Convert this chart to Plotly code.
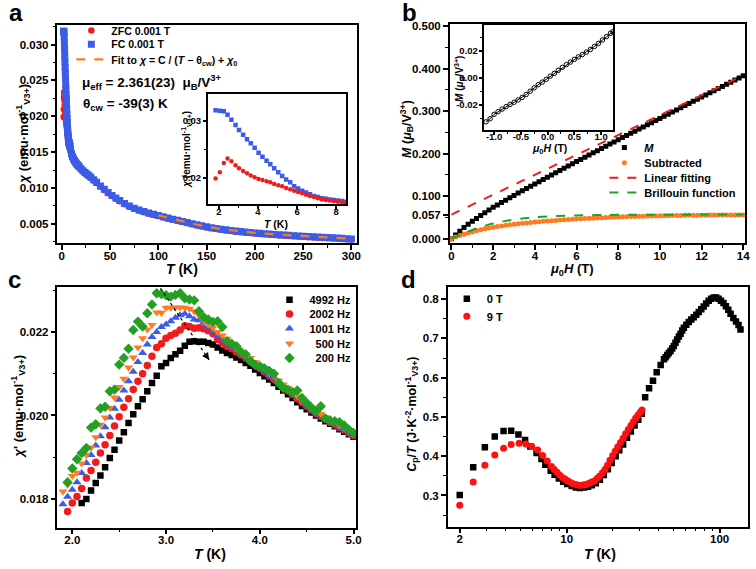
import plotly.graph_objects as go

W, H = 756, 569
FONT = "Liberation Sans, Arial, sans-serif"
RED = "#f21b1b"
BLUE = "#3a5ce6"
ORANGE = "#ff7a22"
GREEN = "#22a022"
BLACK = "#000000"

# ---------------- Panel a : chi(T) ----------------
T_A_LOW = [1.83, 2.05, 2.25, 2.44, 2.64, 2.85, 3.03, 3.24, 3.44, 3.63, 3.83, 4.03, 4.23, 4.44,
           4.63, 4.83, 5.04, 5.24, 5.44, 5.65, 5.85, 6.05, 6.26, 6.46, 6.66, 6.87, 7.07, 7.27,
           7.48, 7.68, 7.88, 8.09, 8.29, 8.47]
FC_LOW = [0.0319, 0.0318, 0.0317, 0.0311, 0.0302, 0.0293, 0.0284, 0.0276, 0.0268, 0.0261, 0.0253,
          0.0244, 0.0237, 0.0230, 0.0224, 0.0217, 0.0210, 0.0203, 0.0197, 0.0192, 0.0185, 0.0181,
          0.0177, 0.0174, 0.0171, 0.0168, 0.0166, 0.0164, 0.0163, 0.0162, 0.0161, 0.0160, 0.0159,
          0.0158]
ZFC_LOW = [0.0199, 0.0210, 0.0226, 0.0234, 0.0229, 0.0222, 0.0217, 0.0212, 0.0208, 0.0204, 0.0201,
           0.0198, 0.0196, 0.0194, 0.0192, 0.0189, 0.0187, 0.0185, 0.0182, 0.0180, 0.0177, 0.0175,
           0.0173, 0.0170, 0.0168, 0.0166, 0.0164, 0.0162, 0.0161, 0.0160, 0.0159, 0.0158, 0.0157,
           0.0156]
T_A_HIGH = [9, 10, 11, 12, 13, 14, 15, 16, 17, 18, 20, 22, 24, 26, 28, 30, 33, 36, 40, 44, 48, 52,
            56, 60, 65, 70, 75, 80, 85, 90, 95, 100, 105, 110, 115, 120, 125, 130, 135, 140, 145,
            150, 155, 160, 165, 170, 175, 180, 185, 190, 195, 200, 205, 210, 215, 220, 225, 230,
            235, 240, 245, 250, 255, 260, 265, 270, 275, 280, 285, 290, 295, 300]
FC_HIGH = [0.01540, 0.01480, 0.01440, 0.01410, 0.01385, 0.01365, 0.01345, 0.01328, 0.01312,
           0.01297, 0.01268, 0.01242, 0.01218, 0.01196, 0.01174, 0.01152, 0.01115, 0.01080,
           0.01030, 0.00982, 0.00938, 0.00898, 0.00860, 0.00825, 0.00785, 0.00750, 0.00720,
           0.00695, 0.00672, 0.00652, 0.00635, 0.00618, 0.00600, 0.00583, 0.00567, 0.00551,
           0.00535, 0.00519, 0.00503, 0.00488, 0.00474, 0.00460, 0.00448, 0.00437, 0.00427,
           0.00418, 0.00409, 0.00401, 0.00394, 0.00387, 0.00381, 0.00375, 0.00369, 0.00364,
           0.00359, 0.00354, 0.00349, 0.00345, 0.00341, 0.00337, 0.00333, 0.00329, 0.00325,
           0.00321, 0.00318, 0.00314, 0.00311, 0.00307, 0.00303, 0.00299, 0.00295, 0.00291]
ZFC_HIGH = [0.01525, 0.01468, 0.01428, 0.01398, 0.01373, 0.01353, 0.01334, 0.01317, 0.01301,
            0.01286, 0.01257, 0.01231, 0.01207, 0.01185, 0.01163, 0.01141, 0.01105, 0.01070,
            0.01020, 0.00972, 0.00928, 0.00888, 0.00850, 0.00815, 0.00776, 0.00741, 0.00711,
            0.00686, 0.00663, 0.00643, 0.00626, 0.00609, 0.00591, 0.00574, 0.00558, 0.00542,
            0.00526, 0.00510, 0.00494, 0.00479, 0.00465, 0.00451, 0.00439, 0.00428, 0.00418,
            0.00409, 0.00400, 0.00392, 0.00385, 0.00378, 0.00372, 0.00366, 0.00360, 0.00355,
            0.00350, 0.00345, 0.00340, 0.00336, 0.00332, 0.00328, 0.00324, 0.00320, 0.00316,
            0.00312, 0.00309, 0.00305, 0.00302, 0.00298, 0.00294, 0.00290, 0.00286, 0.00282]
FIT_T = [100, 110, 120, 130, 140, 150, 160, 170, 180, 190, 200, 210, 220, 230, 240, 250, 260,
         270, 280, 290, 300]
FIT_CHI = [0.00620, 0.00584, 0.00552, 0.00522, 0.00490, 0.00462, 0.00440, 0.00420, 0.00403,
           0.00389, 0.00376, 0.00365, 0.00355, 0.00346, 0.00338, 0.00330, 0.00322, 0.00315,
           0.00308, 0.00301, 0.00294]

# ---------------- Panel b : M(H) ----------------
H_M = [0.0, 0.2, 0.4, 0.6, 0.8, 1.0, 1.2, 1.4, 1.6, 1.8, 2.0, 2.2, 2.4, 2.6, 2.8, 3.0, 3.2, 3.4,
       3.6, 3.8, 4.0, 4.2, 4.4, 4.6, 4.8, 5.0, 5.2, 5.4, 5.6, 5.8, 6.0, 6.2, 6.4, 6.6, 6.8, 7.0,
       7.2, 7.4, 7.6, 7.8, 8.0, 8.2, 8.4, 8.6, 8.8, 9.0, 9.2, 9.4, 9.6, 9.8, 10.0, 10.2, 10.4,
       10.6, 10.8, 11.0, 11.2, 11.4, 11.6, 11.8, 12.0, 12.2, 12.4, 12.6, 12.8, 13.0, 13.2, 13.4,
       13.6, 13.8, 14.0]
M_DATA = [0.0000, 0.0090, 0.0178, 0.0264, 0.0340, 0.0410, 0.0478, 0.0545, 0.0612, 0.0677, 0.0740,
          0.0797, 0.0853, 0.0909, 0.0965, 0.1020, 0.1074, 0.1128, 0.1182, 0.1236, 0.1290, 0.1342,
          0.1394, 0.1447, 0.1499, 0.1552, 0.1604, 0.1657, 0.1709, 0.1762, 0.1814, 0.1866, 0.1917,
          0.1969, 0.2020, 0.2072, 0.2124, 0.2175, 0.2227, 0.2278, 0.2330, 0.2380, 0.2430, 0.2480,
          0.2530, 0.2580, 0.2630, 0.2680, 0.2730, 0.2780, 0.2830, 0.2880, 0.2930, 0.2980, 0.3030,
          0.3080, 0.3130, 0.3180, 0.3230, 0.3280, 0.3330, 0.3380, 0.3430, 0.3480, 0.3530, 0.3580,
          0.3630, 0.3680, 0.3730, 0.3780, 0.3830]
M_SUB = [0.0000, 0.0040, 0.0075, 0.0105, 0.0135, 0.0162, 0.0188, 0.0212, 0.0234, 0.0254, 0.0272,
         0.0288, 0.0303, 0.0317, 0.0330, 0.0342, 0.0353, 0.0364, 0.0374, 0.0384, 0.0393, 0.0402,
         0.0410, 0.0418, 0.0426, 0.0433, 0.0440, 0.0447, 0.0453, 0.0459, 0.0465, 0.0471, 0.0476,
         0.0481, 0.0486, 0.0491, 0.0496, 0.0500, 0.0504, 0.0508, 0.0512, 0.0516, 0.0519, 0.0522,
         0.0525, 0.0528, 0.0531, 0.0534, 0.0536, 0.0538, 0.0540, 0.0542, 0.0544, 0.0546, 0.0548,
         0.0550, 0.0551, 0.0552, 0.0553, 0.0554, 0.0555, 0.0556, 0.0557, 0.0557, 0.0558, 0.0558,
         0.0558, 0.0559, 0.0559, 0.0559, 0.0559]
LIN_H = [0, 14]
LIN_M = [0.057, 0.384]
BRI_H = [0, 0.25, 0.5, 0.75, 1, 1.25, 1.5, 1.75, 2, 2.5, 3, 3.5, 4, 5, 6, 7, 8, 10, 12, 14]
BRI_M = [0, 0.0055, 0.011, 0.016, 0.0208, 0.0252, 0.0292, 0.0328, 0.036, 0.041, 0.0452, 0.0483,
         0.0507, 0.0535, 0.0550, 0.0558, 0.0563, 0.0567, 0.0569, 0.0570]
# inset b : low-field loop
H_IN = [-1.15, -1.075, -1.0, -0.925, -0.85, -0.775, -0.7, -0.625, -0.55, -0.475, -0.4, -0.325,
        -0.25, -0.175, -0.1, -0.025, 0.05, 0.125, 0.2, 0.275, 0.35, 0.425, 0.5, 0.575, 0.65,
        0.725, 0.8, 0.875, 0.95, 1.025, 1.1, 1.175, 1.22]
M_IN = [-0.0328, -0.0305, -0.0272, -0.0252, -0.0233, -0.0215, -0.0198, -0.0182, -0.0165, -0.0146,
        -0.0125, -0.0100, -0.0075, -0.0052, -0.0033, -0.0012, 0.0012, 0.0032, 0.0055, 0.0077,
        0.0097, 0.0116, 0.0136, 0.0155, 0.0172, 0.0190, 0.0210, 0.0232, 0.0255, 0.0280, 0.0305,
        0.0330, 0.0342]

# ---------------- Panel c : AC susceptibility ----------------
T_C = [1.90, 1.95, 2.00, 2.05, 2.10, 2.15, 2.20, 2.25, 2.30, 2.35, 2.40, 2.45, 2.50, 2.55, 2.60,
       2.65, 2.70, 2.75, 2.80, 2.85, 2.90, 2.95, 3.00, 3.05, 3.10, 3.15, 3.20, 3.25, 3.30, 3.35,
       3.40, 3.45, 3.50, 3.55, 3.60, 3.65, 3.70, 3.75, 3.80, 3.85, 3.90, 3.95, 4.00, 4.05, 4.10,
       4.15, 4.20, 4.25, 4.30, 4.35, 4.40, 4.45, 4.50, 4.55, 4.60, 4.65, 4.70, 4.75, 4.80, 4.85,
       4.90, 4.95, 5.00]
CHI_4992 = [0.01790, 0.01800, 0.01820, 0.01838, 0.01856, 0.01876, 0.01898, 0.01918, 0.01940,
            0.01960, 0.01982, 0.02003, 0.02022, 0.02039, 0.02058, 0.02078, 0.02095, 0.02118,
            0.02126, 0.02138, 0.02147, 0.02155, 0.02167, 0.02177, 0.02178, 0.02177, 0.02177,
            0.02174, 0.02170, 0.02163, 0.02156, 0.02150, 0.02145, 0.02139, 0.02133, 0.02126,
            0.02119, 0.02110, 0.02102, 0.02094, 0.02086, 0.02078, 0.02069, 0.02060, 0.02051,
            0.02042, 0.02032, 0.02023, 0.02015, 0.02007, 0.02000, 0.01993, 0.01986, 0.01980,
            0.01974, 0.01967, 0.01961, 0.01955, 0.01949]
CHI_2002 = [0.01770, 0.01790, 0.01806, 0.01825, 0.01850, 0.01868, 0.01888, 0.01910, 0.01930,
            0.01952, 0.01975, 0.01997, 0.02020, 0.02040, 0.02062, 0.02082, 0.02100, 0.02120,
            0.02142, 0.02163, 0.02172, 0.02185, 0.02192, 0.02197, 0.02205, 0.02215, 0.02213,
            0.02209, 0.02210, 0.02208, 0.02203, 0.02196, 0.02182, 0.02174, 0.02166, 0.02160,
            0.02152, 0.02145, 0.02138, 0.02130, 0.02122, 0.02113, 0.02104, 0.02095, 0.02087,
            0.02078, 0.02068, 0.02059, 0.02050, 0.02040, 0.02031, 0.02022, 0.02013, 0.02005,
            0.01998, 0.01991, 0.01984, 0.01978, 0.01971, 0.01965, 0.01958, 0.01952]
CHI_1001 = [0.01787, 0.01805, 0.01822, 0.01840, 0.01862, 0.01886, 0.01905, 0.01928, 0.01950,
            0.01972, 0.01995, 0.02016, 0.02038, 0.02060, 0.02082, 0.02105, 0.02128, 0.02150,
            0.02170, 0.02188, 0.02200, 0.02212, 0.02218, 0.02226, 0.02234, 0.02240, 0.02244,
            0.02238, 0.02230, 0.02228, 0.02222, 0.02212, 0.02202, 0.02192, 0.02182, 0.02173,
            0.02165, 0.02157, 0.02149, 0.02141, 0.02133, 0.02124, 0.02115, 0.02106, 0.02097,
            0.02089, 0.02080, 0.02070, 0.02061, 0.02052, 0.02042, 0.02033, 0.02024, 0.02015,
            0.02007, 0.02000, 0.01993, 0.01986, 0.01980, 0.01973, 0.01967, 0.01960, 0.01954]
CHI_500 = [0.01818, 0.01834, 0.01855, 0.01863, 0.01885, 0.01905, 0.01923, 0.01948, 0.01978,
           0.01995, 0.02018, 0.02043, 0.02068, 0.02088, 0.02115, 0.02139, 0.02163, 0.02185,
           0.02206, 0.02217, 0.02247, 0.02246, 0.02258, 0.02258, 0.02259, 0.02259, 0.02258,
           0.02256, 0.02250, 0.02240, 0.02228, 0.02218, 0.02210, 0.02200, 0.02192, 0.02184,
           0.02170, 0.02160, 0.02152, 0.02146, 0.02138, 0.02128, 0.02120, 0.02112, 0.02102,
           0.02095, 0.02084, 0.02074, 0.02066, 0.02058, 0.02046, 0.02036, 0.02028, 0.02018,
           0.02012, 0.02004, 0.01996, 0.01988, 0.01984, 0.01976, 0.01970, 0.01964, 0.01956]
CHI_200 = [0.01840, 0.01873, 0.01895, 0.01910, 0.01922, 0.01971, 0.01979, 0.02017, 0.02021,
           0.02058, 0.02062, 0.02122, 0.02138, 0.02160, 0.02205, 0.02225, 0.02213, 0.02245,
           0.02266, 0.02293, 0.02291, 0.02288, 0.02285, 0.02289, 0.02293, 0.02281, 0.02278,
           0.02276, 0.02250, 0.02236, 0.02230, 0.02224, 0.02226, 0.02212, 0.02178, 0.02172,
           0.02166, 0.02152, 0.02146, 0.02130, 0.02121, 0.02118, 0.02113, 0.02107, 0.02100,
           0.02078, 0.02066, 0.02062, 0.02056, 0.02060, 0.02042, 0.02030, 0.02019, 0.02010,
           0.02022, 0.01993, 0.01988, 0.01986, 0.01984, 0.01976, 0.01966, 0.01958]
ARROW_T = [2.94, 3.46]
ARROW_CHI = [0.02305, 0.02133]

# ---------------- Panel d : heat capacity ----------------
CP_T0 = [2.0, 2.45, 2.92, 3.39, 3.87, 4.34, 4.84, 5.35, 5.79, 6.36, 6.85, 7.26, 7.87, 8.35, 8.9,
         9.5, 10.1, 10.8, 11.5, 12.2, 13.0, 13.8, 14.6, 15.5, 16.5, 17.5, 18.6, 19.7, 20.9, 22.1,
         23.4, 24.8, 26.3, 27.8, 29.4, 31.0, 32.6, 34.6, 36.7, 38.8, 41.2, 43.3, 44.4, 45.5, 46.6,
         47.8, 49.0, 50.2, 51.5, 52.8, 54.2, 55.6, 57.0, 58.4, 60.6, 62.9, 65.3, 67.8, 70.4, 73.1,
         75.9, 78.7, 81.7, 84.9, 88.1, 91.5, 95.0, 98.5, 102, 106, 110, 114, 118, 123, 128, 133, 137]
CP_0T = [0.301, 0.372, 0.423, 0.450, 0.464, 0.465, 0.455, 0.441, 0.425, 0.408, 0.393, 0.378, 0.363,
         0.353, 0.343, 0.335, 0.329, 0.324, 0.320, 0.319, 0.320, 0.322, 0.326, 0.331, 0.340, 0.352,
         0.367, 0.383, 0.400, 0.415, 0.430, 0.447, 0.463, 0.478, 0.493, 0.508, 0.550, 0.573, 0.592,
         0.614, 0.632, 0.647, 0.652, 0.658, 0.663, 0.668, 0.674, 0.681, 0.689, 0.697, 0.705, 0.712,
         0.720, 0.727, 0.735, 0.742, 0.748, 0.754, 0.760, 0.767, 0.774, 0.781, 0.789, 0.796, 0.801,
         0.804, 0.804, 0.801, 0.796, 0.790, 0.782, 0.773, 0.763, 0.752, 0.743, 0.734, 0.723]
CP_T9 = [2.0, 2.45, 2.92, 3.39, 3.87, 4.34, 4.89, 5.41, 5.91, 6.47, 6.97, 7.47, 7.96, 8.3, 8.65,
         9.0, 9.4, 9.8, 10.2, 10.6, 11.0, 11.5, 12.0, 12.5, 13.0, 13.5, 14.0, 14.6, 15.2, 15.8,
         16.4, 17.1, 17.8, 18.5, 19.2, 20.0, 20.8, 21.6, 22.5, 23.4, 24.3, 25.3, 26.3, 27.3, 28.3,
         29.3, 30.3, 31.1]
CP_9T = [0.275, 0.334, 0.377, 0.403, 0.420, 0.430, 0.433, 0.431, 0.425, 0.416, 0.402, 0.388, 0.374,
         0.366, 0.359, 0.352, 0.346, 0.341, 0.337, 0.333, 0.330, 0.328, 0.326, 0.326, 0.327, 0.328,
         0.331, 0.334, 0.337, 0.343, 0.349, 0.357, 0.366, 0.377, 0.390, 0.402, 0.413, 0.424, 0.435,
         0.446, 0.457, 0.468, 0.478, 0.488, 0.497, 0.505, 0.512, 0.518]

# axis titles
CHI_TITLE = "<i>χ</i> (emu·mol<sup>-1</sup><sub>V3+</sub>)"
TITLE_T = "<i>T</i> (K)"
TITLE_H = "<i>μ</i><sub>0</sub><i>H</i> (T)"
TITLE_M = "<i>M</i> (<i>μ</i><sub>B</sub>/V<sup>3+</sup>)"
TITLE_CHI_AC = "<i>χ</i>' (emu·mol<sup>-1</sup><sub>V3+</sub>)"
TITLE_CP = "<i>C</i><sub>p</sub>/<i>T</i> (J·K<sup>-2</sup>·mol<sup>-1</sup><sub>V3+</sub>)"


def fx(p):
    return p / W


def fy(p):
    return 1 - p / H


TICKFONT = dict(family=FONT, size=11.5, color="black", weight="bold")
SMALLTICK = dict(family=FONT, size=9.5, color="black", weight="bold")


def axis(dom, rng, anchor, **kw):
    d = dict(domain=dom, range=rng, anchor=anchor, showline=True, linecolor="black",
             linewidth=1.5, mirror=True, ticks="outside", ticklen=5, tickwidth=1.5,
             tickcolor="black", showgrid=False, zeroline=False, tickfont=TICKFONT)
    d.update(kw)
    return d


def minor(dt, t0=0, ln=3):
    return dict(ticks="outside", ticklen=ln, tickwidth=1.2, tickcolor="black", dtick=dt, tick0=t0)


fig = go.Figure()

# panel a traces
fig.add_trace(go.Scatter(x=T_A_LOW + T_A_HIGH, y=ZFC_LOW + ZFC_HIGH, mode="markers",
                         marker=dict(symbol="circle", size=6.5, color=RED),
                         name="ZFC 0.001 T", xaxis="x", yaxis="y", legend="legend"))
fig.add_trace(go.Scatter(x=T_A_LOW + T_A_HIGH, y=FC_LOW + FC_HIGH, mode="markers",
                         marker=dict(symbol="square", size=7, color=BLUE),
                         name="FC 0.001 T", xaxis="x", yaxis="y", legend="legend2"))
fig.add_trace(go.Scatter(x=FIT_T, y=FIT_CHI, mode="lines",
                         line=dict(color=ORANGE, width=2.2, dash="dash"),
                         name="Fit to <i>χ</i> = C / (<i>T</i> − θ<sub>cw</sub>) + <i>χ</i><sub>0</sub>",
                         xaxis="x", yaxis="y", legend="legend3"))
# inset a
fig.add_trace(go.Scatter(x=T_A_LOW, y=FC_LOW, mode="markers",
                         marker=dict(symbol="square", size=4.5, color=BLUE),
                         showlegend=False, xaxis="x5", yaxis="y5"))
fig.add_trace(go.Scatter(x=T_A_LOW, y=ZFC_LOW, mode="markers",
                         marker=dict(symbol="circle", size=4.5, color=RED),
                         showlegend=False, xaxis="x5", yaxis="y5"))

# panel b traces
fig.add_trace(go.Scatter(x=H_M, y=M_DATA, mode="markers",
                         marker=dict(symbol="square", size=5, color=BLACK),
                         name="<i>M</i>", xaxis="x2", yaxis="y2", legend="legend4"))
fig.add_trace(go.Scatter(x=H_M, y=M_SUB, mode="markers",
                         marker=dict(symbol="circle", size=5, color=ORANGE),
                         name="Subtracted", xaxis="x2", yaxis="y2", legend="legend5"))
fig.add_trace(go.Scatter(x=LIN_H, y=LIN_M, mode="lines",
                         line=dict(color=RED, width=2, dash="dash"),
                         name="Linear fitting", xaxis="x2", yaxis="y2", legend="legend6"))
fig.add_trace(go.Scatter(x=BRI_H, y=BRI_M, mode="lines", line_shape="spline",
                         line=dict(color=GREEN, width=2, dash="dash"),
                         name="Brillouin function", xaxis="x2", yaxis="y2", legend="legend7"))
# inset b
fig.add_trace(go.Scatter(x=H_IN, y=M_IN, mode="lines+markers",
                         line=dict(color=BLACK, width=1),
                         marker=dict(symbol="circle-open", size=4.5, color=BLACK, line=dict(width=1)),
                         showlegend=False, xaxis="x6", yaxis="y6"))

# panel c traces
series_c = [
    ("4992 Hz", T_C[4:], CHI_4992, "square", 6.5, BLACK, "legend8"),
    ("2002 Hz", T_C[1:], CHI_2002, "circle", 7.5, RED, "legend9"),
    ("1001 Hz", T_C, CHI_1001, "triangle-up", 8, BLUE, "legend10"),
    ("\u00a0\u00a0500 Hz", T_C, CHI_500, "triangle-down", 8, ORANGE, "legend11"),
    ("\u00a0\u00a0200 Hz", T_C[1:], CHI_200, "diamond", 8, GREEN, "legend12"),
]
for name, xs, ys, sym, sz, col, lg in series_c:
    fig.add_trace(go.Scatter(x=xs, y=ys, mode="markers",
                             marker=dict(symbol=sym, size=sz, color=col),
                             name=name, xaxis="x3", yaxis="y3", legend=lg))

# panel d traces
fig.add_trace(go.Scatter(x=CP_T0, y=CP_0T, mode="markers",
                         marker=dict(symbol="square", size=6.5, color=BLACK),
                         name="0 T", xaxis="x4", yaxis="y4", legend="legend13"))
fig.add_trace(go.Scatter(x=CP_T9, y=CP_9T, mode="markers",
                         marker=dict(symbol="circle", size=7, color="#ff1010"),
                         name="9 T", xaxis="x4", yaxis="y4", legend="legend14"))

layout = dict(
    width=W, height=H, margin=dict(l=0, r=0, t=0, b=0),
    paper_bgcolor="white", plot_bgcolor="white",
    font=dict(family=FONT, color="black", weight="bold"),
    # panel a
    xaxis=axis([fx(56), fx(358)], [-4.5, 305.5], "y", ticklabelstandoff=-4,
               tickvals=[0, 50, 100, 150, 200, 250, 300], minor=minor(25)),
    yaxis=axis([fy(242), fy(21)], [0.00228, 0.03276], "x",
               tickvals=[0.005, 0.010, 0.015, 0.020, 0.025, 0.030], tickformat=".3f",
               minor=minor(0.0025)),
    # panel b
    xaxis2=axis([fx(452), fx(750.3)], [-0.08, 14.1], "y2", ticklabelstandoff=-4,
                tickvals=[0, 2, 4, 6, 8, 10, 12, 14], minor=minor(1)),
    yaxis2=axis([fy(241.7), fy(20)], [-0.0102, 0.5053], "x2",
                tickvals=[0, 0.057, 0.1, 0.2, 0.3, 0.4, 0.5],
                ticktext=["0.000", "0.057", "0.100", "0.200", "0.300", "0.400", "0.500"],
                minor=minor(0.05)),
    # panel c
    xaxis3=axis([fx(56), fx(357.7)], [1.842, 5.03], "y3", ticklabelstandoff=-4,
                tickvals=[2, 3, 4, 5], ticktext=["2.0", "3.0", "4.0", "5.0"], minor=minor(0.5)),
    yaxis3=axis([fy(529.3), fy(286)], [0.01731, 0.02308], "x3",
                tickvals=[0.018, 0.020, 0.022], tickformat=".3f", minor=minor(0.001)),
    # panel d
    xaxis4=axis([fx(450), fx(752.7)], [0.2233, 2.184], "y4", type="log", ticklabelstandoff=-4,
                tickvals=[2, 10, 100], ticktext=["2", "10", "100"],
                minor=dict(ticks="outside", ticklen=3, tickwidth=1.2, tickcolor="black",
                           tickmode="array",
                           tickvals=[3, 4, 5, 6, 7, 8, 9, 20, 30, 40, 50, 60, 70, 80, 90])),
    yaxis4=axis([fy(528.3), fy(286)], [0.2204, 0.831], "x4",
                tickvals=[0.3, 0.4, 0.5, 0.6, 0.7, 0.8], tickformat=".1f", minor=minor(0.05)),
    # inset a
    xaxis5=axis([fx(207.7), fx(347.7)], [1.43, 8.53], "y5", ticklen=3, ticklabelstandoff=-5,
                tickvals=[2, 4, 6, 8], minor=minor(1, 0, 2), tickfont=SMALLTICK),
    yaxis5=axis([fy(202.3), fy(90.7)], [0.01536, 0.0348], "x5", ticklen=3,
                tickvals=[0.02, 0.03], ticktext=["0.02", "0.03"], minor=minor(0.005, 0, 2),
                tickfont=SMALLTICK),
    # inset b
    xaxis6=axis([fx(486), fx(616.7)], [-1.198, 1.222], "y6", ticklen=3, ticklabelstandoff=-7,
                tickvals=[-1, -0.5, 0, 0.5, 1], ticktext=["-1.0", "-0.5", "0.0", "0.5", "1.0"],
                minor=minor(0.25, 0, 2), tickfont=SMALLTICK),
    yaxis6=axis([fy(127.7), fy(21.3)], [-0.0391, 0.0391], "x6", ticklen=3, ticklabelstandoff=-1,
                tickvals=[-0.02, 0, 0.02], ticktext=["-0.02", "0.00", "0.02"],
                minor=minor(0.01, 0, 2), tickfont=SMALLTICK),
)

# one-entry legends, positioned to match the stacked legend rows
LEG_ROWS = {
    "legend": (70, 26.7, 10.5), "legend2": (70, 40.7, 10.5), "legend3": (70, 56, 10.5),
    "legend4": (608, 145, 11), "legend5": (608, 160.5, 11), "legend6": (608, 175.5, 11),
    "legend7": (608, 190.5, 11),
    "legend8": (270, 299, 11), "legend9": (270, 313.3, 11), "legend10": (270, 328, 11),
    "legend11": (270, 343, 11), "legend12": (270, 357.7, 11),
    "legend13": (449, 298, 11), "legend14": (449, 315.7, 11),
}
for key, (lx, ly, fs) in LEG_ROWS.items():
    layout[key] = dict(x=fx(lx), y=fy(ly), xanchor="left", yanchor="middle",
                       bgcolor="rgba(0,0,0,0)", borderwidth=0,
                       font=dict(family=FONT, size=fs, color="black", weight="bold"))

fig.update_layout(**layout)

# arrow in panel c (dotted guide with arrowhead)
fig.add_shape(type="line", xref="x3", yref="y3", x0=ARROW_T[0], y0=ARROW_CHI[0],
              x1=ARROW_T[1], y1=ARROW_CHI[1], line=dict(color="black", width=1.2, dash="dot"))
fig.add_annotation(xref="x3", yref="y3", axref="x3", ayref="y3",
                   x=ARROW_T[1], y=ARROW_CHI[1],
                   ax=ARROW_T[1] - 0.04, ay=ARROW_CHI[1] + 0.00013,
                   showarrow=True, arrowhead=2, arrowsize=1.2, arrowwidth=1.2,
                   arrowcolor="black", text="")


def label(text, x, y, size, angle=0, anchor="center"):
    fig.add_annotation(xref="paper", yref="paper", x=fx(x), y=fy(y), xanchor=anchor,
                       yanchor="middle", showarrow=False, text=text, textangle=angle,
                       font=dict(family=FONT, size=size, color="black", weight="bold"))


# axis titles placed like the reference
label(TITLE_T, 182, 268, 14)
label(CHI_TITLE, 21, 131, 13, -90)
label(TITLE_H, 575, 268, 13)
label(TITLE_M, 408, 126, 12.5, -90)
label(TITLE_T, 210, 556, 14)
label(TITLE_CHI_AC, 16, 407, 13, -90)
label(TITLE_T, 604, 556, 14)
label(TITLE_CP, 413, 415, 12.5, -90)
label(TITLE_T, 277, 222, 10.5)
label(CHI_TITLE, 186, 147, 10, -90)
label(TITLE_H, 553, 147, 10.5)
label(TITLE_M, 461, 76, 10, -90)

# fit parameters
label("μ<sub>eff</sub> = 2.361(23)  μ<sub>B</sub>/V<sup>3+</sup>", 79, 79, 13.5, anchor="left")
label("θ<sub>cw</sub> = -39(3) K", 80, 102, 13.5, anchor="left")
# panel letters
for lab, lx, ly in [("a", 14, 9), ("b", 411, 9), ("c", 13, 278), ("d", 410, 278)]:
    label(lab, lx, ly, 24)

fig.write_html("out.html", config={"displayModeBar": False},
               post_script="document.body.style.margin='0px';"
                           "document.body.style.overflow='hidden';")
